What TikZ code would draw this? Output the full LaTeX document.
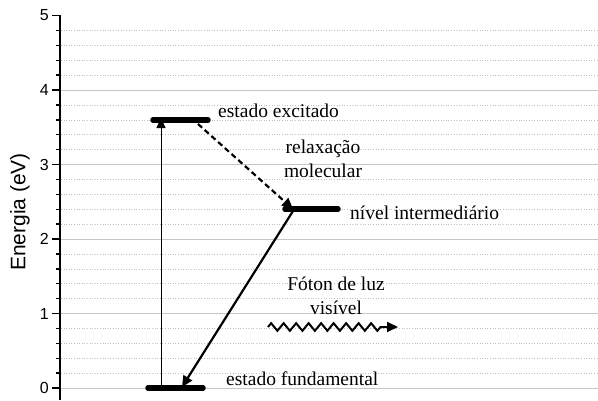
\documentclass[tikz,border=0pt]{standalone}
\usepackage{fontspec}
\setmainfont{Liberation Serif}
\newfontfamily\axisfont{Liberation Sans}
\usetikzlibrary{arrows.meta,decorations.pathmorphing}

\tikzset{
    level/.style={line width=5.5pt, line cap=round},
    lbl/.style={inner sep=0pt, font=\fontsize{19.5}{23.5}\selectfont},
    tip/.style={-{Triangle[length=11pt,width=10pt]}}
}

\begin{document}
\begin{tikzpicture}[x=1pt, y=-1pt]
    \useasboundingbox (0,0) rectangle (598,400);

    % Grid: dotted every 0.2 eV, solid at every eV
    \foreach \e in {0.2,0.4,...,4.81} {
        \pgfmathsetmacro{\py}{388-74.5*\e}
        \draw[gray!50, dotted, line width=0.6pt] (61,\py) -- (598,\py);
    }
    \foreach \e in {0,1,2,3,4} {
        \pgfmathsetmacro{\py}{388-74.5*\e}
        \draw[gray!45, line width=0.9pt] (61,\py) -- (598,\py);
    }

    % Energy axis
    \draw[line width=1.5pt] (60,15) -- (60,400);
    \foreach \e in {0.2,0.4,...,4.81} {
        \pgfmathsetmacro{\py}{388-74.5*\e}
        \draw[line width=1.4pt] (56,\py) -- (60,\py);
    }
    \foreach \e in {0,1,2,3,4,5} {
        \pgfmathsetmacro{\py}{388-74.5*\e}
        \draw[line width=1.4pt] (52,\py) -- (60,\py);
        \node[anchor=east, inner sep=0pt, font=\axisfont\fontsize{16}{16}\selectfont] (tick\e) at (49,\py) {\e};
    }
    \node[rotate=90, font=\axisfont\fontsize{21}{21}\selectfont] (ylabel) at (20,212) {Energia (eV)};

    % Levels
    \coordinate (exc-l) at (153,120);
    \coordinate (exc-r) at (208,120);
    \coordinate (int-l) at (285,209);
    \coordinate (int-r) at (338,209);
    \coordinate (fun-l) at (148,388);
    \coordinate (fun-r) at (203,388);
    \draw[level] (exc-l) -- (exc-r);
    \draw[level] (int-l) -- (int-r);
    \draw[level] (fun-l) -- (fun-r);

    % Transitions
    \coordinate (abs-a) at (161,388);
    \coordinate (abs-b) at (161,118);
    \draw[-{Triangle[length=10pt,width=9pt]}, line width=1pt] (abs-a) -- (abs-b);
    \coordinate (rel-a) at (198,124);
    \coordinate (rel-b) at (293,209);
    \draw[tip, line width=2.2pt, dash pattern=on 5.5pt off 3.5pt] (rel-a) -- (rel-b);
    \coordinate (emi-a) at (293,211);
    \coordinate (emi-b) at (182,387);
    \draw[tip, line width=2.2pt] (emi-a) -- (emi-b);
    \coordinate (pho-a) at (268,327);
    \coordinate (pho-b) at (398,327);
    \draw[tip, line width=2pt, decorate,
          decoration={zigzag, segment length=12.5pt, amplitude=3.8pt, post length=14pt}]
          (pho-a) -- (pho-b);

    % Labels
    \node[lbl, anchor=west] (excited) at (218,111) {estado excitado};
    \node[lbl, align=center] (relax) at (323,159) {relaxação\\molecular};
    \node[lbl, anchor=west] (middle) at (350,213) {nível intermediário};
    \node[lbl, align=center] (photon) at (336,296) {Fóton de luz\\visível};
    \node[lbl, anchor=west] (ground) at (226,379) {estado fundamental};
\end{tikzpicture}
\end{document}
